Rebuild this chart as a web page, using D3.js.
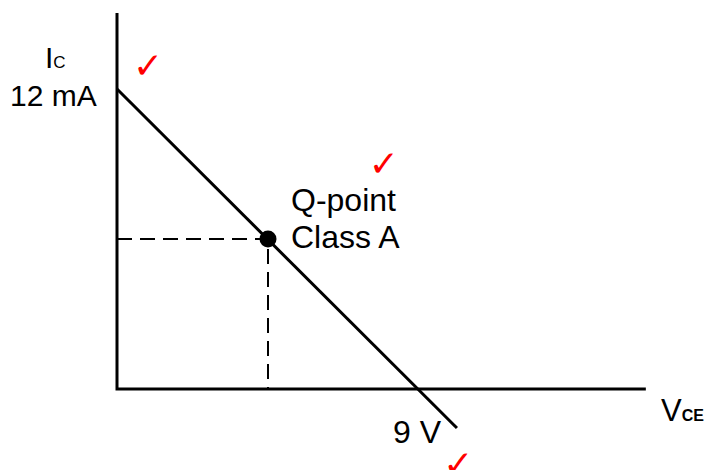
<!DOCTYPE html>
<html>
<head>
  <meta charset="utf-8">
  <script src="https://d3js.org/d3.v7.min.js"></script>
  <style>
    body { margin: 0; background: #fff; }
    text { font-family: "Liberation Sans", Arial, sans-serif; fill: #000; }
    .check { font-family: "DejaVu Sans", sans-serif; fill: #f00; }
  </style>
</head>
<body>
<script>
  // load line values (V, mA)
  var axisMax = [15.76, 15.04];          // V, mA ends of the drawn axes
  var loadLine = [[0, 12], [10.13, -1.56]];
  var qPoint = [4.5, 6];
  var labels = ["12 mA", "9 V", "Q-point", "Class A"];
  var checks = [[0.48, 12.44], [7.5, 8.52], [9.72, -3.46]];

  var width = 707, height = 470;
  var x = d3.scaleLinear().domain([0, 9]).range([117, 419]);
  var y = d3.scaleLinear().domain([0, 12]).range([389, 89]);

  var svg = d3.select("body").append("svg")
      .attr("width", width)
      .attr("height", height);

  // dashed guides to the q-point
  svg.append("path")
      .attr("d", d3.line()([[x(0), y(qPoint[1])], [x(qPoint[0]), y(qPoint[1])], [x(qPoint[0]), y(0)]]))
      .attr("fill", "none")
      .attr("stroke", "#000")
      .attr("stroke-width", 2)
      .attr("stroke-dasharray", "15,8");

  // axes
  svg.append("path")
      .attr("d", d3.line()([[x(0), y(axisMax[1])], [x(0), y(0)], [x(axisMax[0]), y(0)]]))
      .attr("fill", "none")
      .attr("stroke", "#000")
      .attr("stroke-width", 3);

  // load line
  svg.append("path")
      .attr("d", d3.line().x(function(d) { return x(d[0]); }).y(function(d) { return y(d[1]); })(loadLine))
      .attr("stroke", "#000")
      .attr("stroke-width", 3);

  svg.append("circle")
      .attr("cx", x(qPoint[0]))
      .attr("cy", y(qPoint[1]))
      .attr("r", 8.5)
      .attr("fill", "#000");

  // labels
  var ic = svg.append("text").attr("x", 45).attr("y", 68).style("font-size", "30px");
  ic.append("tspan").text("I");
  ic.append("tspan").style("font-size", "17px").text("C");

  svg.append("text").attr("x", 10).attr("y", 106).style("font-size", "30px").text(labels[0]);
  svg.append("text").attr("x", 393).attr("y", 443).style("font-size", "32px").text(labels[1]);
  svg.append("text").attr("x", 291).attr("y", 211).style("font-size", "32px").text(labels[2]);
  svg.append("text").attr("x", 291).attr("y", 248).style("font-size", "32px").text(labels[3]);

  var vce = svg.append("text").attr("x", 661).attr("y", 421).style("font-size", "31px");
  vce.append("tspan").text("V");
  vce.append("tspan").style("font-size", "16px").style("font-weight", "bold").text("CE");

  svg.selectAll(".check")
      .data(checks)
      .enter().append("text")
      .attr("class", "check")
      .attr("x", function(d) { return x(d[0]); })
      .attr("y", function(d) { return y(d[1]); })
      .style("font-size", "36px")
      .style("font-weight", "bold")
      .text("\u2713");
</script>
</body>
</html>
